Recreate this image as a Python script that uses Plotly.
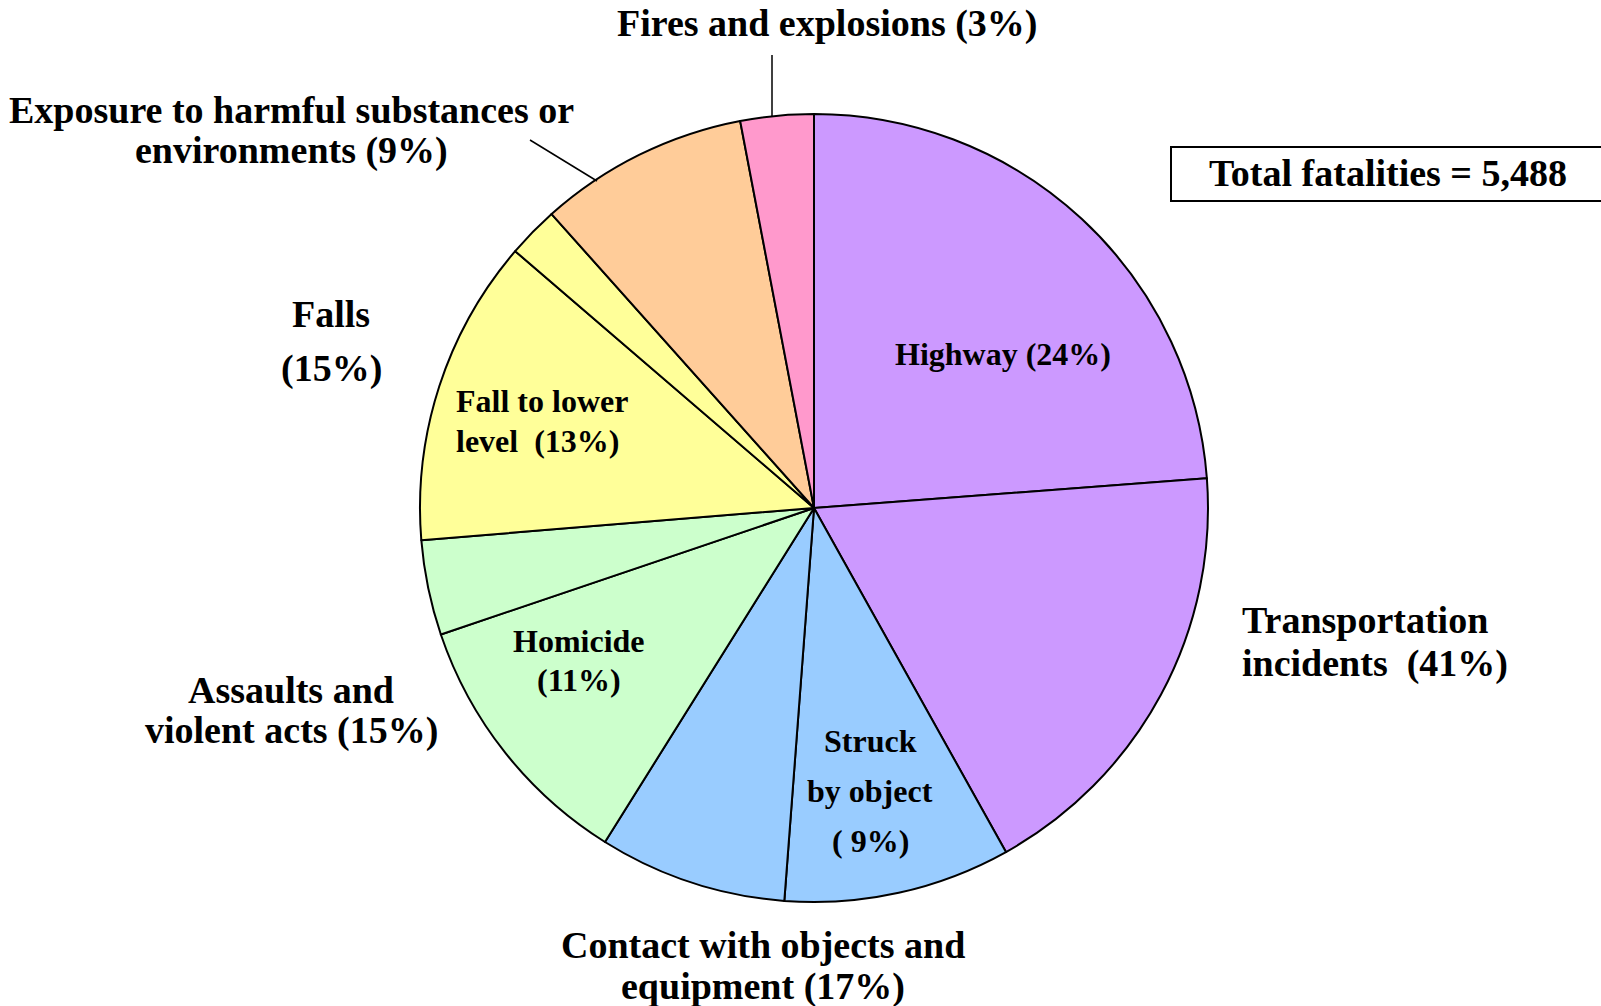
"""
Fatal occupational injuries by event or exposure — pie with sub-slices.
"""

import plotly.graph_objects as go

# slices, clockwise from 12 o'clock
slices = [
    "Highway", "Other transportation",
    "Struck by object", "Other contact",
    "Homicide", "Other assaults",
    "Fall to lower level", "Other falls",
    "Exposure to harmful substances or environments",
    "Fires and explosions",
]
shares = [23.8, 18.1, 9.3, 7.7, 10.9, 3.9, 12.6, 2.1, 8.6, 3.0]
colors = [
    "#CC99FF", "#CC99FF",
    "#99CCFF", "#99CCFF",
    "#CCFFCC", "#CCFFCC",
    "#FFFF99", "#FFFF99",
    "#FFCC99",
    "#FF99CC",
]

W, H = 1601, 1006
FONT = "Liberation Serif, Times New Roman, serif"

fig = go.Figure(
    go.Pie(
        labels=slices,
        values=shares,
        sort=False,
        direction="clockwise",
        rotation=0,
        marker=dict(colors=colors, line=dict(color="black", width=2)),
        textinfo="none",
        hoverinfo="label+percent",
        showlegend=False,
        domain=dict(x=[420 / W, 1208 / W], y=[104 / H, 892 / H]),
    )
)


def label(lines, x, y0, step, size, anchor="center"):
    # one annotation per line so the line spacing can follow the original
    for i, txt in enumerate(lines):
        fig.add_annotation(
            x=x / W, y=1 - (y0 + i * step) / H,
            xref="paper", yref="paper",
            text=f"<b>{txt}</b>", showarrow=False,
            xanchor=anchor, yanchor="middle",
            font=dict(family=FONT, size=size, color="black"),
        )


OUT, IN = 38, 32

label(["Fires and explosions (3%)"], 827, 23, 0, OUT)
label(["Exposure to harmful substances or", "environments (9%)"], 291, 110, 40, OUT)
label(["Falls", "(15%)"], 331, 314, 54, OUT)
label(["Assaults and", "violent acts (15%)"], 291, 690, 40, OUT)
label(["Contact with objects and", "equipment (17%)"], 763, 945, 41, OUT)
label(["Transportation", "incidents  (41%)"], 1240, 620, 43, OUT, anchor="left")

label(["Highway (24%)"], 1003, 354, 0, IN)
label(["Fall to lower", "level  (13%)"], 454, 401, 40, IN, anchor="left")
label(["Homicide", "(11%)"], 579, 641, 39, IN)
label(["Struck", "by object", "( 9%)"], 870, 741, 50, IN)

label(["Total fatalities = 5,488"], 1388, 173, 0, OUT)

# leader lines and the total box
fig.add_shape(type="line", xref="paper", yref="paper",
              x0=772 / W, x1=772 / W, y0=1 - 55 / H, y1=1 - 116 / H,
              line=dict(color="black", width=1.5))
fig.add_shape(type="line", xref="paper", yref="paper",
              x0=530 / W, x1=597 / W, y0=1 - 140 / H, y1=1 - 181 / H,
              line=dict(color="black", width=1.5))
fig.add_shape(type="rect", xref="paper", yref="paper",
              x0=1171 / W, x1=1640 / W, y0=1 - 147 / H, y1=1 - 201 / H,
              line=dict(color="black", width=2))

fig.update_layout(
    width=W, height=H,
    margin=dict(l=0, r=0, t=0, b=0),
    paper_bgcolor="white",
    plot_bgcolor="white",
)

# drop the browser's default body margin so the figure fills the window
fig.write_html(
    "out.html",
    config={"displayModeBar": False},
    post_script="document.body.style.margin='0';",
)
